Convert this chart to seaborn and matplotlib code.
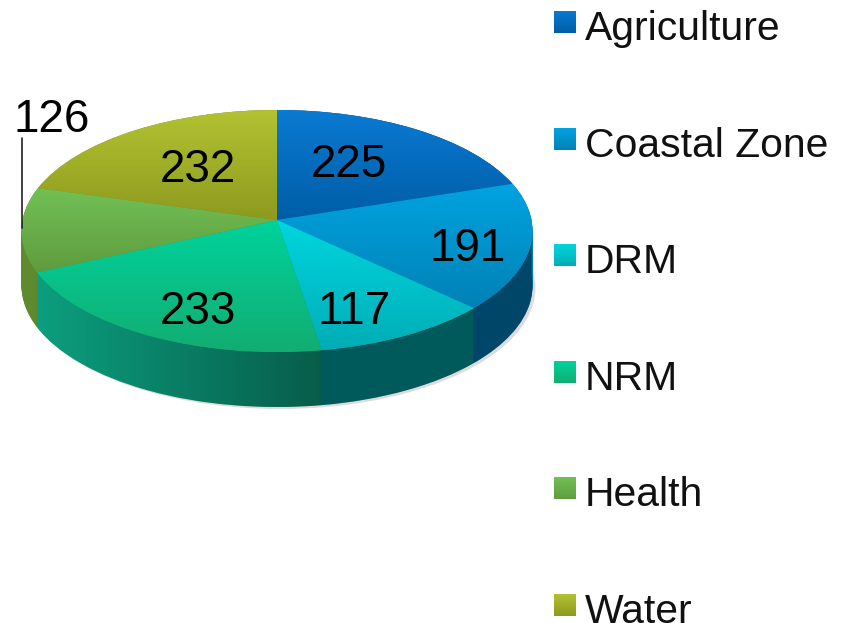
import numpy as np
import seaborn as sns
import matplotlib.pyplot as plt
from matplotlib.patches import Polygon
from matplotlib.transforms import Transform

sectors = ['Agriculture', 'Coastal Zone', 'DRM', 'NRM', 'Health', 'Water']
projects = [225, 191, 117, 233, 126, 232]

# light / dark end of the gradient on each top face
top_light = ['#0a7ad2', '#00a3e0', '#00d6de', '#00d29c', '#72c056', '#b2c232']
top_dark = ['#005da6', '#0082b6', '#00adb6', '#12ad72', '#5f9c3e', '#8e9a1e']
side_colors = ['#0079b5', '#0079b5', '#009a9e', '#0ca080', '#5f8a30', '#8e9a1e']

# pixel layout of the picture
W, H = 846, 623
cx, cy = 277, 220
rx = 254.5
depth = 55
tilt = 0.09
label_pos = [(349, 160), (468, 244), (354, 307), (198, 307), (52, 115), (198, 165)]
legend_y = [25, 142, 258, 375, 491, 608]

sns.set_theme(style='white')
plt.rcParams['font.family'] = ['Liberation Sans', 'DejaVu Sans']


# perspective: the front of the disc is wider and deeper than the back
def project_xy(x, y):
    return rx * x * (1 - tilt * y), 121 * y - 11 * y ** 2


class Perspective(Transform):
    input_dims = 2
    output_dims = 2
    is_separable = False

    def transform_non_affine(self, values):
        return np.column_stack(project_xy(values[:, 0], values[:, 1]))


def draw_pie(fig, colors, dy=0, dx=0):
    ax = fig.add_axes([dx / W, -dy / H, 1, 1])
    wedges, _ = ax.pie(projects, colors=colors, startangle=90, counterclock=False,
                       wedgeprops={'linewidth': 0})
    ax.set_aspect('auto')
    ax.set_xlim(-cx, W - cx)
    ax.set_ylim(cy - H, cy)
    ax.axis('off')
    for wedge in wedges:
        wedge.set_transform(Perspective() + ax.transData)
    return wedges


def pixel_axes(fig):
    ax = fig.add_axes([0, 0, 1, 1])
    ax.set_xlim(0, W)
    ax.set_ylim(H, 0)
    ax.axis('off')
    return ax


def gradient(ax, box, light, dark, **kwargs):
    cmap = sns.blend_palette([light, dark], 64, as_cmap=True)
    im = ax.imshow(np.linspace(0, 1, 64)[:, None], cmap=cmap, aspect='auto',
                   extent=(box[0], box[1], box[3], box[2]), **kwargs)
    ax.set_xlim(0, W)
    ax.set_ylim(H, 0)
    return im


fig = plt.figure(figsize=(W / 100, H / 100), dpi=100)

# soft shadow, then the rim as a stack of discs
draw_pie(fig, ['#dcdcdc'] * 6, dy=depth + 2, dx=3)
for dy in range(depth, 0, -1):
    draw_pie(fig, side_colors, dy=dy)

# rim gets darker towards the right
shade_ax = pixel_axes(fig)
t = np.linspace(0, 2 * np.pi, 400)
edge_x, edge_y = project_xy(np.sin(t), np.cos(t))
hull_x = cx + edge_x
hull_y = cy - edge_y + depth * (np.cos(t) < 0)
hull = Polygon(np.column_stack([hull_x, hull_y]), transform=shade_ax.transData,
               facecolor='none', edgecolor='none')
shade_ax.add_patch(hull)
shade = np.zeros((1, W, 4))
shade[..., 3] = np.interp(np.arange(W), [30, 320, W], [0, 0.42, 0.42])
im = shade_ax.imshow(shade, aspect='auto', extent=(0, W, H, 0))
im.set_clip_path(hull)
shade_ax.set_xlim(0, W)
shade_ax.set_ylim(H, 0)

# top face, each wedge filled with its own vertical gradient
top_wedges = draw_pie(fig, top_dark)
fig.canvas.draw()
ax = pixel_axes(fig)
for wedge, light, dark in zip(top_wedges, top_light, top_dark):
    ext = wedge.get_transform().transform_path(wedge.get_path()).get_extents()
    im = gradient(ax, (ext.x0, ext.x1, H - ext.y1, H - ext.y0), light, dark)
    im.set_clip_path(wedge)

# value labels and the leader line of the small slice
for value, (x, y) in zip(projects, label_pos):
    ax.text(x, y, str(value), fontsize=33, color='black', ha='center', va='center_baseline')
ax.plot([22, 22], [138, 228], color='#222222', lw=1.2)

# legend
for name, y, light, dark in zip(sectors, legend_y, top_light, top_dark):
    gradient(ax, (554, 576, y - 14, y + 8), light, dark)
    ax.text(585, y, name, fontsize=29.4, color='#111111', ha='left', va='center_baseline')

fig.savefig('out.png', dpi=100)
